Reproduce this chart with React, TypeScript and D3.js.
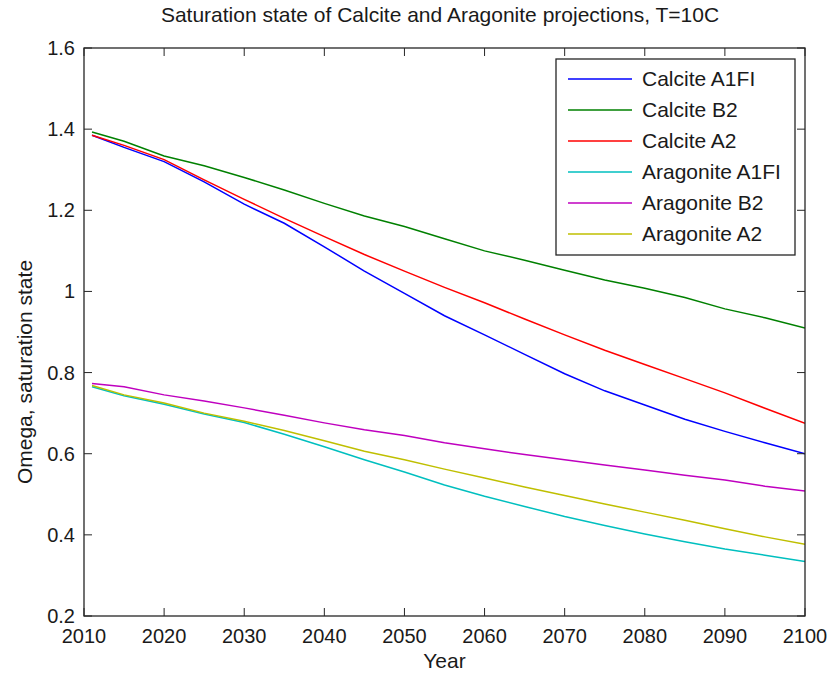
import React from "react";
import * as d3 from "d3";

// Projection years (5-year steps from the first model year)
const years = [2011, 2015, 2020, 2025, 2030, 2035, 2040, 2045, 2050, 2055, 2060, 2065, 2070, 2075, 2080, 2085, 2090, 2095, 2100];

const calciteA1FI = [1.385, 1.355, 1.32, 1.27, 1.215, 1.168, 1.11, 1.05, 0.995, 0.94, 0.893, 0.845, 0.797, 0.755, 0.72, 0.685, 0.655, 0.627, 0.6];
const calciteB2 = [1.393, 1.37, 1.334, 1.31, 1.281, 1.25, 1.217, 1.186, 1.16, 1.13, 1.1, 1.077, 1.052, 1.028, 1.008, 0.985, 0.957, 0.935, 0.91];
const calciteA2 = [1.385, 1.36, 1.325, 1.275, 1.227, 1.18, 1.135, 1.091, 1.05, 1.01, 0.972, 0.932, 0.893, 0.855, 0.82, 0.785, 0.75, 0.712, 0.675];
const aragoniteA1FI = [0.765, 0.743, 0.722, 0.698, 0.677, 0.648, 0.617, 0.585, 0.555, 0.523, 0.495, 0.47, 0.445, 0.423, 0.402, 0.383, 0.365, 0.35, 0.334];
const aragoniteB2 = [0.773, 0.765, 0.745, 0.73, 0.713, 0.695, 0.676, 0.659, 0.645, 0.627, 0.612, 0.598, 0.585, 0.572, 0.56, 0.547, 0.535, 0.52, 0.508];
const aragoniteA2 = [0.768, 0.745, 0.725, 0.7, 0.68, 0.657, 0.632, 0.606, 0.585, 0.562, 0.54, 0.518, 0.497, 0.476, 0.456, 0.436, 0.415, 0.395, 0.377];

const seriesNames = ["Calcite A1FI", "Calcite B2", "Calcite A2", "Aragonite A1FI", "Aragonite B2", "Aragonite A2"];
const seriesValues = [calciteA1FI, calciteB2, calciteA2, aragoniteA1FI, aragoniteB2, aragoniteA2];
const seriesColors = ["#0000ff", "#008000", "#ff0000", "#00bfbf", "#bf00bf", "#bfbf00"];

const xTicks = [2010, 2020, 2030, 2040, 2050, 2060, 2070, 2080, 2090, 2100];
const yTicks = [0.2, 0.4, 0.6, 0.8, 1.0, 1.2, 1.4, 1.6];

const W = 830;
const H = 673;
const left = 84;
const right = 805;
const top = 48;
const bottom = 616;
const tickLen = 8;
const font = "'Liberation Sans', Arial, Helvetica, sans-serif";
const tickFs = 20;
const labelFs = 21;
const textColor = "#1a1a1a";

export default function App() {
  const x = d3.scaleLinear().domain([2010, 2100]).range([left, right]);
  const y = d3.scaleLinear().domain([0.2, 1.6]).range([bottom, top]);
  const line = d3
    .line<[number, number]>()
    .x((d) => x(d[0]))
    .y((d) => y(d[1]));

  const fmt = (v: number) => (Math.abs(v - 1) < 1e-9 ? "1" : d3.format(".1f")(v));

  const legX = 556;
  const legY = 59;
  const legW = 239;
  const rowH = 31;
  const legH = 196;

  return (
    <svg width={W} height={H} style={{ position: "absolute", left: 0, top: 0, background: "#fff" }} fontFamily={font}>
      <rect x={0} y={0} width={W} height={H} fill="#fff" />
      <text x={440} y={22} textAnchor="middle" fontSize={labelFs} fill={textColor}>
        Saturation state of Calcite and Aragonite projections, T=10C
      </text>

      <defs>
        <clipPath id="plotClip">
          <rect x={left} y={top} width={right - left} height={bottom - top} />
        </clipPath>
      </defs>
      <g clipPath="url(#plotClip)">
        {seriesValues.map((vals, i) => (
          <path
            key={seriesNames[i]}
            d={line(years.map((yr, j) => [yr, vals[j]] as [number, number])) || ""}
            fill="none"
            stroke={seriesColors[i]}
            strokeWidth={1.5}
          />
        ))}
      </g>

      {/* axes box */}
      <rect x={left} y={top} width={right - left} height={bottom - top} fill="none" stroke="#262626" strokeWidth={1.3} />

      {xTicks.map((t) => (
        <g key={`x${t}`}>
          <line x1={x(t)} x2={x(t)} y1={bottom} y2={bottom - tickLen} stroke="#262626" />
          <line x1={x(t)} x2={x(t)} y1={top} y2={top + tickLen} stroke="#262626" />
          <text x={x(t)} y={643} textAnchor="middle" fontSize={tickFs} fill={textColor}>
            {t}
          </text>
        </g>
      ))}
      {yTicks.map((t) => (
        <g key={`y${t}`}>
          <line x1={left} x2={left + tickLen} y1={y(t)} y2={y(t)} stroke="#262626" />
          <line x1={right} x2={right - tickLen} y1={y(t)} y2={y(t)} stroke="#262626" />
          <text x={75} y={y(t) + 7} textAnchor="end" fontSize={tickFs} fill={textColor}>
            {fmt(t)}
          </text>
        </g>
      ))}

      <text x={(left + right) / 2} y={668} textAnchor="middle" fontSize={labelFs} fill={textColor}>
        Year
      </text>
      <text
        transform={`translate(32, 372) rotate(-90)`}
        textAnchor="middle"
        fontSize={labelFs}
        fill={textColor}
      >
        Omega, saturation state
      </text>

      {/* legend */}
      <rect x={legX} y={legY} width={legW} height={legH} fill="#fff" stroke="#262626" strokeWidth={1.3} />
      {seriesNames.map((name, i) => {
        const cy = legY + 20 + i * rowH;
        return (
          <g key={`leg${name}`}>
            <line x1={568} x2={632} y1={cy} y2={cy} stroke={seriesColors[i]} strokeWidth={1.5} />
            <text x={642} y={cy + 7} fontSize={labelFs} fill={textColor}>
              {name}
            </text>
          </g>
        );
      })}
    </svg>
  );
}
